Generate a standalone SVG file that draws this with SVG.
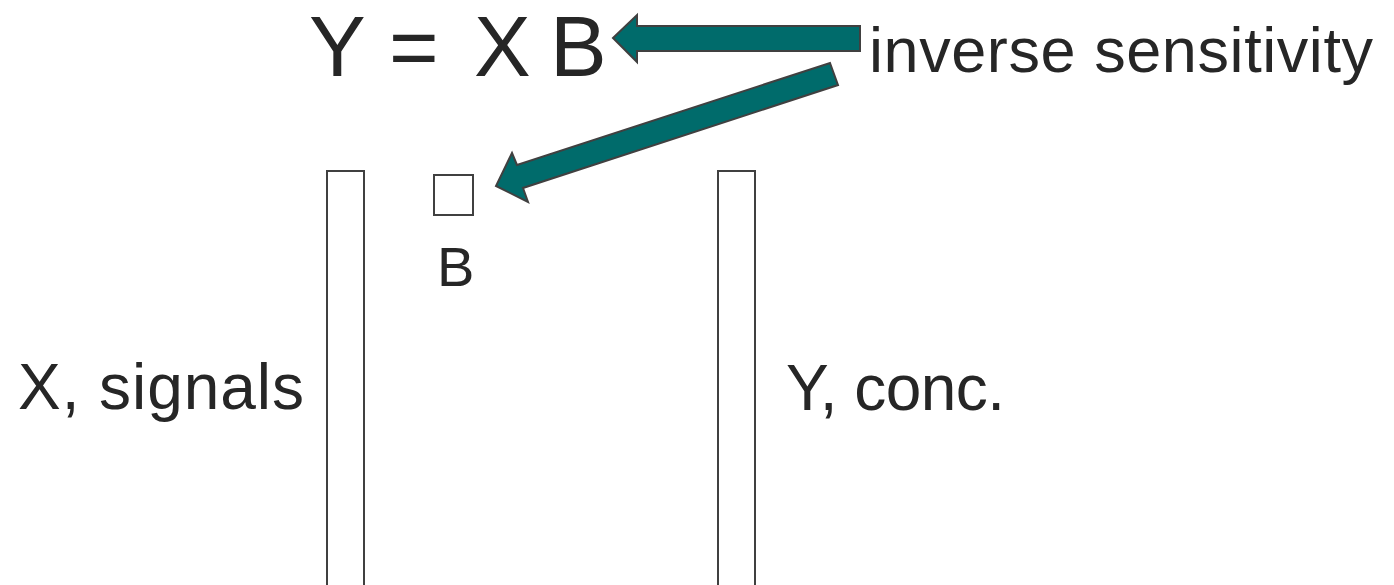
<svg xmlns="http://www.w3.org/2000/svg" width="1394" height="585" viewBox="0 0 1394 585">
<style>
.t{font-family:"Liberation Sans",Arial,sans-serif;fill:#262626}
.box{fill:#ffffff;stroke:#404040;stroke-width:2}
.arrow{fill:#006b6b;stroke:#404040;stroke-width:2;stroke-linejoin:miter}
</style>
<rect width="1394" height="585" fill="#ffffff"/>
<g id="equation"><text class="t" font-size="85" y="76"><tspan x="309">Y</tspan><tspan x="389">=</tspan><tspan x="474">X</tspan><tspan x="550">B</tspan></text></g>
<g id="label-inverse"><text class="t" font-size="63" x="869" y="72" textLength="504" lengthAdjust="spacing">inverse sensitivity</text></g>
<g id="matrix-X"><rect class="box" x="327" y="171" width="37" height="430"/></g>
<g id="matrix-B"><rect class="box" x="434" y="175" width="39" height="40"/><text class="t" font-size="56" x="437" y="286">B</text></g>
<g id="matrix-Y"><rect class="box" x="718" y="171" width="37" height="430"/></g>
<g id="label-X"><text class="t" font-size="64" x="18" y="409" textLength="286" lengthAdjust="spacing">X, signals</text></g>
<g id="label-Y"><text class="t" font-size="64" x="786" y="410" textLength="219" lengthAdjust="spacing">Y, conc.</text></g>
<g id="connectors">
<polygon class="arrow" points="613,38 637,15 637,26 860,26 860,51 637,51 637,62"/>
<polygon class="arrow" points="830,63 838,85 523,188 528,202 496,186 512,153 517,165"/>
</g>
</svg>
